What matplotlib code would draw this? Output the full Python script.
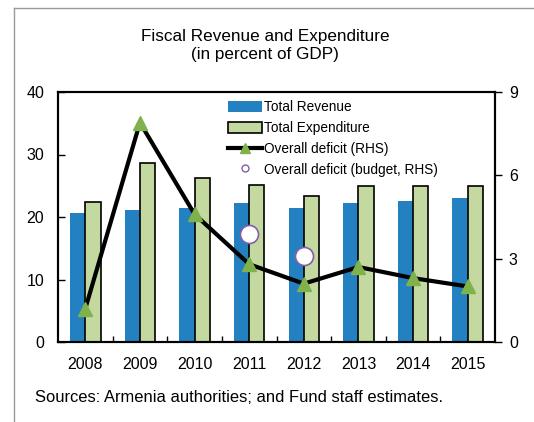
import matplotlib.pyplot as plt
import numpy as np
from matplotlib.lines import Line2D

plt.rcParams['font.family'] = ['Liberation Sans', 'DejaVu Sans']

years = ["2008", "2009", "2010", "2011", "2012", "2013", "2014", "2015"]
revenue = [20.7, 21.2, 21.4, 22.3, 21.5, 22.3, 22.5, 23.0]
expenditure = [22.4, 28.7, 26.3, 25.1, 23.4, 25.0, 24.9, 24.9]
deficit = [1.2, 7.9, 4.6, 2.8, 2.1, 2.7, 2.3, 2.0]
budget_years = [3, 4]  # indices of 2011, 2012
budget_deficit = [3.9, 3.1]

blue = "#2481c1"
green = "#c3d9a0"
tri_green = "#7fb24a"
purple = "#8060a8"

fig = plt.figure(figsize=(5.34, 4.22), dpi=100)
ax = fig.add_axes([58/534, 1-342/422, (495-58)/534, (342-92)/422])
ax2 = ax.twinx()

x = np.arange(len(years))
w = 0.28
ax.bar(x - w/2, revenue, w, color=blue, label="Total Revenue", zorder=2)
ax.bar(x + w/2, expenditure, w, color=green, edgecolor="black", linewidth=1.2,
       label="Total Expenditure", zorder=2)

ax2.plot(x, deficit, color="black", linewidth=3, marker="^", markersize=10,
         markerfacecolor=tri_green, markeredgecolor=tri_green, zorder=3)
ax2.plot(x[budget_years], budget_deficit, linestyle="none", marker="o", markersize=13,
         markerfacecolor="white", markeredgecolor=purple, markeredgewidth=1.2, zorder=4)

ax.set_xlim(-0.5, len(years) - 0.5)
ax.set_ylim(0, 40)
ax2.set_ylim(0, 9)
ax.set_yticks([0, 10, 20, 30, 40])
ax2.set_yticks([0, 3, 6, 9])
ax.set_xticks(x)
ax.set_xticklabels(years)
ax.set_xticks(np.arange(len(years) - 1) + 0.5, minor=True)

ax.tick_params(axis="x", which="major", length=0, labelsize=11.5, pad=11)
ax.tick_params(axis="x", which="minor", direction="in", length=4, width=1)
ax.tick_params(axis="y", direction="in", length=5, width=1, labelsize=11.5, pad=10)
ax2.tick_params(axis="y", direction="out", length=5, width=1, labelsize=11.5, pad=5)
for a in (ax, ax2):
    for s in a.spines.values():
        s.set_linewidth(1.5)

handles = [
    plt.Rectangle((0, 0), 1, 1, facecolor=blue, edgecolor="none"),
    plt.Rectangle((0, 0), 1, 1, facecolor=green, edgecolor="black", linewidth=1.2),
    Line2D([], [], color="black", linewidth=3, marker="^", markersize=7,
           markerfacecolor=tri_green, markeredgecolor=tri_green),
    Line2D([], [], linestyle="none", marker="o", markersize=5,
           markerfacecolor="white", markeredgecolor=purple),
]
labels = ["Total Revenue", "Total Expenditure", "Overall deficit (RHS)",
          "Overall deficit (budget, RHS)"]
ax2.legend(handles, labels, loc="upper left", bbox_to_anchor=(0.37, 1.0), frameon=False,
           fontsize=9.8, handlelength=2.5, handleheight=0.9, handletextpad=0.15,
           labelspacing=0.5, borderaxespad=0.2)

fig.text(265/534, 1-45/422, "Fiscal Revenue and Expenditure\n(in percent of GDP)",
         ha="center", va="center", fontsize=12.3, linespacing=1.25)
fig.text(35/534, 1-397/422, "Sources: Armenia authorities; and Fund staff estimates.",
         ha="left", va="center", fontsize=11.9)

fig.add_artist(Line2D([14/534, 14/534], [0, 1-8/422], transform=fig.transFigure,
                      color="#999999", linewidth=1))
fig.add_artist(Line2D([14/534, 1], [1-8/422, 1-8/422], transform=fig.transFigure,
                      color="#999999", linewidth=1))

fig.savefig("out.png", dpi=100)
